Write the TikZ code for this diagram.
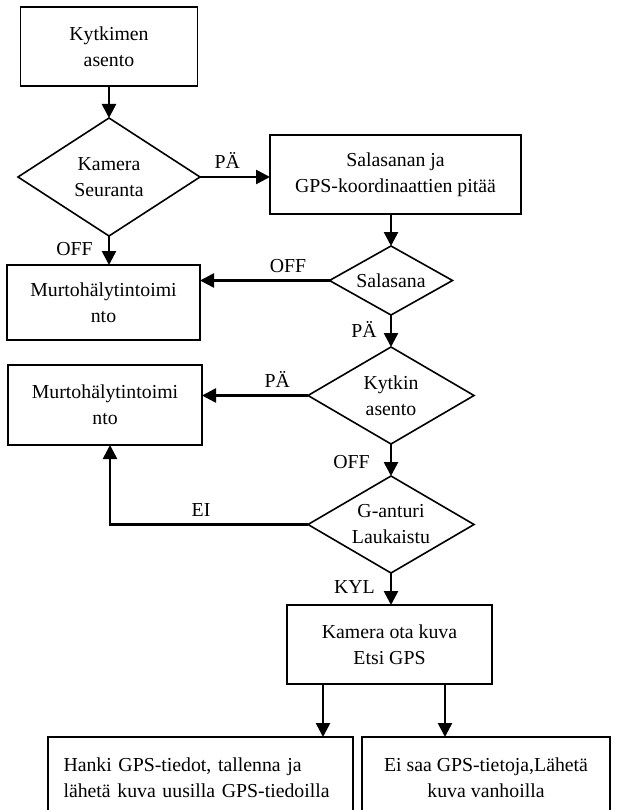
\documentclass[tikz,border=0pt]{standalone}
\usepackage{fontspec}
\setmainfont{Liberation Serif}
\usetikzlibrary{shapes.geometric}
\usetikzlibrary{positioning, arrows.meta}

\begin{document}
\begin{tikzpicture}[x=1pt, y=-1pt,
  font=\fontsize{19.8}{26}\selectfont,
  procbox/.style={draw, line width=1.6pt, align=center, outer sep=0, inner sep=0},
  decbox/.style={draw, diamond, aspect=1.8, line width=1.6pt, align=center, outer sep=0, inner sep=0},
  arr/.style={-{Triangle[length=14pt, width=14pt]}, line width=2.6pt},
  lbl/.style={inner sep=1pt}]
\useasboundingbox (0,0) rectangle (617,810);
\node[procbox, minimum width=177pt, minimum height=79pt] (sw_pos) at (109,46.5) {Kytkimen\\asento};
\node[decbox, minimum width=182pt, minimum height=118pt] (cam_dec) [below=32pt of sw_pos] {Kamera\\Seuranta};
\node[procbox, minimum width=251pt, minimum height=79pt] (pw_gps) [right=70pt of cam_dec, yshift=2.5pt] {Salasanan ja\\GPS-koordinaattien pitää};
\node[decbox, minimum width=123pt, minimum height=69pt] (pw_dec) [below=32pt of pw_gps, xshift=-4.5pt] {Salasana};
\node[procbox, minimum width=193pt, minimum height=75pt] (alarm_1) [below=29pt of cam_dec, xshift=-5.5pt] {Murtohälytintoimi\\nto};
\node[decbox, minimum width=166pt, minimum height=97pt] (sw_dec) [below=32pt of pw_dec] {Kytkin\\asento};
\node[procbox, minimum width=194pt, minimum height=80pt] (alarm_2) [below=25pt of alarm_1, xshift=1.5pt] {Murtohälytintoimi\\nto};
\node[decbox, minimum width=166pt, minimum height=97pt] (g_dec) [below=32pt of sw_dec] {G-anturi\\Laukaistu};
\node[procbox, minimum width=205pt, minimum height=79pt] (cam_shot) [below=32pt of g_dec, xshift=-1.5pt] {Kamera ota kuva\\Etsi GPS};
\node[procbox, minimum width=305pt, minimum height=82pt, text width=274pt, align=left] (gps_ok) [below=53pt of cam_shot, xshift=-189pt] {\makebox[\linewidth][s]{Hanki GPS-tiedot, tallenna ja}\\lähetä kuva uusilla GPS-tiedoilla};
\node[procbox, minimum width=248pt, minimum height=82pt] (gps_old) [right=9pt of gps_ok] {Ei saa GPS-tietoja,Lähetä\\kuva vanhoilla};
\draw[arr] (sw_pos) -- (cam_dec);
\draw[arr] (cam_dec.east) -- node[lbl, above=6pt, pos=0.39] {PÄ} (cam_dec.east -| pw_gps.west);
\draw[arr] (pw_dec.north |- pw_gps.south) -- (pw_dec.north);
\draw[arr] (cam_dec.south) -- node[lbl, left=14pt, pos=0.45] {OFF} (cam_dec.south |- alarm_1.north);
\draw[arr] (pw_dec.west) -- node[lbl, above=6pt, pos=0.32] {OFF} (pw_dec.west -| alarm_1.east);
\draw[arr] (pw_dec.south) -- node[lbl, left=12pt, pos=0.45] {PÄ} (sw_dec.north);
\draw[arr] (sw_dec.west) -- node[lbl, above=6pt, pos=0.29] {PÄ} (sw_dec.west -| alarm_2.east);
\draw[arr] (sw_dec.south) -- node[lbl, left=19pt, pos=0.55] {OFF} (g_dec.north);
\draw[arr] (g_dec.west) -| node[lbl, above=6pt, pos=0.27] {EI} ([xshift=5pt]alarm_2.south);
\draw[arr] (g_dec.south) -- node[lbl, left=14pt, pos=0.45] {KYL} (g_dec.south |- cam_shot.north);
\coordinate (shot_l) at ([xshift=-66.5pt]cam_shot.south);
\coordinate (shot_r) at ([xshift=55.5pt]cam_shot.south);
\draw[arr] (shot_l) -- (shot_l |- gps_ok.north);
\draw[arr] (shot_r) -- (shot_r |- gps_old.north);
\end{tikzpicture}
\end{document}
